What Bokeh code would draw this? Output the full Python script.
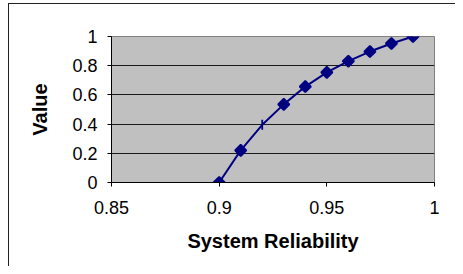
import math
from bokeh.plotting import figure
from bokeh.models import ColumnDataSource, FixedTicker, Range1d
from bokeh.embed import file_html
from bokeh.resources import INLINE

# Data
reliability = [0.90, 0.91, 0.92, 0.93, 0.94, 0.95, 0.96, 0.97, 0.98, 0.99]
value = [0.0, 0.22, 0.395, 0.535, 0.657, 0.754, 0.831, 0.897, 0.952, 1.0]
point_marker = ["square", "square", "dash", "square", "square",
                "square", "square", "square", "square", "square"]

x_ticks = [0.85, 0.90, 0.95, 1.0]
x_tick_labels = ["0.85", "0.9", "0.95", "1"]
y_ticks = [0.0, 0.2, 0.4, 0.6, 0.8, 1.0]
y_tick_labels = ["0", "0.2", "0.4", "0.6", "0.8", "1"]

FONT = "Liberation Sans"

src = ColumnDataSource(dict(
    x=reliability, y=value, marker=point_marker,
    angle=[math.pi / 2 if m == "dash" else math.pi / 4 for m in point_marker],
    size=[10 if m == "dash" else 8 for m in point_marker],
))

p = figure(width=455, height=266, output_backend="svg", toolbar_location=None,
           x_range=Range1d(0.85, 1.0), y_range=Range1d(0.0, 1.0),
           min_border_left=111, min_border_right=21, min_border_top=36, min_border_bottom=84)

p.background_fill_color = "#c0c0c0"
p.border_fill_color = None
p.styles = {
    "background-color": "white",
    "background-image": "linear-gradient(#222, #222), linear-gradient(#222, #222)",
    "background-size": "1px 100%, 100% 1px",
    "background-position": "8px 3px, 8px 3px",
    "background-repeat": "no-repeat",
}
p.outline_line_color = "#808080"
p.outline_line_width = 1

p.xgrid.grid_line_color = None
p.ygrid.grid_line_color = "#1a1a1a"
p.ygrid.grid_line_width = 1

p.xaxis.ticker = FixedTicker(ticks=x_ticks)
p.yaxis.ticker = FixedTicker(ticks=y_ticks)
p.xaxis.major_label_overrides = {t: l for t, l in zip(x_ticks, x_tick_labels)}
p.yaxis.major_label_overrides = {t: l for t, l in zip(y_ticks, y_tick_labels)}

for ax in (p.xaxis, p.yaxis):
    ax.axis_line_color = "black"
    ax.major_tick_line_color = "black"
    ax.minor_tick_line_color = None
    ax.major_tick_in = 0
    ax.major_tick_out = 4
    ax.major_label_text_font = FONT
    ax.major_label_text_font_size = "18px"
    ax.major_label_text_color = "black"
    ax.axis_label_text_font = FONT
    ax.axis_label_text_font_size = "20px"
    ax.axis_label_text_font_style = "bold"
    ax.axis_label_text_color = "black"

p.xaxis.axis_label = "System Reliability"
p.yaxis.axis_label = "Value"
p.xaxis.major_label_standoff = 14
p.yaxis.major_label_standoff = 10
p.xaxis.axis_label_standoff = 13
p.yaxis.axis_label_standoff = 18

p.line("x", "y", source=src, line_color="#000080", line_width=2)
p.scatter("x", "y", source=src, marker="marker", angle="angle", size="size",
          fill_color="#000080", line_color="#000080", line_width=1.8)

open("out.html", "w").write(file_html(p, INLINE))
